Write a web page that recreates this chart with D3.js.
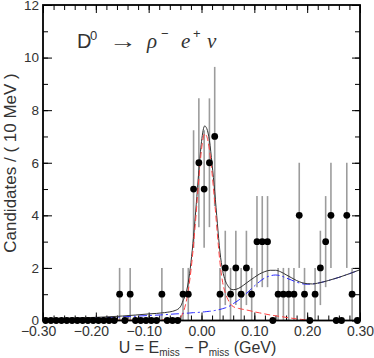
<!DOCTYPE html>
<html>
<head>
<meta charset="utf-8">
<script src="https://d3js.org/d3.v7.min.js"></script>
<style>
  body { margin: 0; background: #fff; }
  text { font-family: "Liberation Sans", Arial, sans-serif; fill: #333; }
</style>
</head>
<body>
<script>
  // histogram: 60 bins of 10 MeV from -0.30 to 0.30 GeV
  const binLow = -0.30;
  const binWidth = 0.01;
  const counts = [
    0, 0, 0, 0, 0, 0, 0, 0, 0, 0, 0, 0, 0, 0, 1, 0, 1, 0, 0, 0,
    0, 0, 1, 0, 0, 0, 1, 1, 5, 6, 5, 6, 7, 1, 2, 1, 2, 1, 2, 1,
    3, 3, 3, 0, 1, 1, 1, 1, 4, 1, 0, 1, 2, 3, 4, 0, 0, 4, 1, 0
  ];

  // fit curves
  const curveU = [-0.30, -0.25, -0.20, -0.15, -0.10, -0.07, -0.05, -0.04, -0.035, -0.03,
    -0.025, -0.02, -0.015, -0.01, -0.005, 0.0, 0.006, 0.01, 0.015, 0.02,
    0.025, 0.03, 0.035, 0.04, 0.045, 0.05, 0.055, 0.06, 0.07, 0.08,
    0.09, 0.10, 0.11, 0.12, 0.13, 0.14, 0.15, 0.16, 0.17, 0.18,
    0.19, 0.20, 0.21, 0.22, 0.24, 0.26, 0.28, 0.30];
  const totalFit = [0.06, 0.09, 0.12, 0.17, 0.25, 0.30, 0.38, 0.52, 0.75, 1.0,
    1.45, 2.2, 3.2, 4.4, 5.7, 6.8, 7.4, 7.3, 6.85, 5.95,
    4.9, 3.7, 2.6, 1.9, 1.52, 1.32, 1.2, 1.17, 1.22, 1.35,
    1.5, 1.64, 1.77, 1.86, 1.91, 1.91, 1.85, 1.74, 1.63, 1.52,
    1.44, 1.40, 1.39, 1.42, 1.52, 1.64, 1.78, 1.93];
  const backgroundFit = [0.05, 0.07, 0.10, 0.14, 0.19, 0.22, 0.25, 0.26, 0.27, 0.28,
    0.28, 0.29, 0.30, 0.30, 0.31, 0.32, 0.33, 0.34, 0.35, 0.36,
    0.38, 0.40, 0.42, 0.45, 0.48, 0.52, 0.57, 0.64, 0.77, 0.94,
    1.12, 1.31, 1.48, 1.62, 1.70, 1.73, 1.70, 1.62, 1.54, 1.46,
    1.40, 1.38, 1.39, 1.42, 1.52, 1.64, 1.78, 1.93];
  const signalU = [-0.16, -0.10, -0.07, -0.05, -0.04, -0.035, -0.03, -0.025, -0.02, -0.015,
    -0.01, -0.005, 0.0, 0.006, 0.01, 0.015, 0.02, 0.025, 0.03, 0.035,
    0.04, 0.045, 0.05, 0.055, 0.06, 0.07, 0.08, 0.09, 0.10, 0.11,
    0.12, 0.13, 0.14, 0.15, 0.16, 0.17, 0.18, 0.19, 0.20, 0.21];
  const signalFit = [0.01, 0.02, 0.03, 0.05, 0.12, 0.3, 0.62, 1.15, 1.9, 2.9,
    4.1, 5.4, 6.5, 7.1, 7.0, 6.5, 5.6, 4.5, 3.3, 2.2,
    1.45, 1.05, 0.8, 0.62, 0.53, 0.46, 0.42, 0.38, 0.33, 0.29,
    0.25, 0.21, 0.18, 0.15, 0.12, 0.09, 0.06, 0.04, 0.02, 0.0];

  const xTicks = [-0.30, -0.20, -0.10, 0.00, 0.10, 0.20, 0.30];
  const yTicks = [0, 2, 4, 6, 8, 10, 12];

  const svg = d3.select("body")
    .append("svg")
    .attr("width", 374)
    .attr("height", 358);

  const x = d3.scaleLinear().domain([-0.3, 0.3]).range([43, 360]);
  const y = d3.scaleLinear().domain([0, 12]).range([320.5, 5]);

  svg.append("clipPath").attr("id", "plot")
    .append("rect")
    .attr("x", 43).attr("y", 5)
    .attr("width", 317).attr("height", 315.5);

  // axes, ticks pointing into the frame
  const xMinor = d3.range(-0.3, 0.3001, 0.02);
  const yMinor = d3.range(0, 12.001, 1);

  function styleAxis(g, size) {
    g.select(".domain").remove();
    g.selectAll("line").attr("stroke", "#000").attr("stroke-width", 1);
    g.selectAll("text").style("font-size", (size || 14) + "px").attr("fill", "#333");
  }

  svg.append("g").attr("transform", "translate(0,320.5)")
    .call(d3.axisBottom(x).tickValues(xMinor).tickSize(-5).tickFormat(""))
    .call(styleAxis);
  svg.append("g").attr("transform", "translate(0,320.5)")
    .call(d3.axisBottom(x).tickValues(xTicks).tickSize(-8).tickPadding(5.5)
      .tickFormat(d => d3.format(".2f")(d).replace("-", "\u2212")))
    .call(styleAxis, 14)
    .selectAll("text")
    .attr("dx", d => d < 0 ? "-0.35em" : 0);

  svg.append("g").attr("transform", "translate(0,5)")
    .call(d3.axisTop(x).tickValues(xMinor).tickSize(-5).tickFormat(""))
    .call(styleAxis);
  svg.append("g").attr("transform", "translate(0,5)")
    .call(d3.axisTop(x).tickValues(xTicks).tickSize(-8).tickFormat(""))
    .call(styleAxis);

  svg.append("g").attr("transform", "translate(43,0)")
    .call(d3.axisLeft(y).tickValues(yMinor).tickSize(-5).tickFormat(""))
    .call(styleAxis);
  svg.append("g").attr("transform", "translate(43,0)")
    .call(d3.axisLeft(y).tickValues(yTicks).tickSize(-9).tickPadding(4))
    .call(styleAxis, 13.5);

  svg.append("g").attr("transform", "translate(360,0)")
    .call(d3.axisRight(y).tickValues(yMinor).tickSize(-5).tickFormat(""))
    .call(styleAxis);
  svg.append("g").attr("transform", "translate(360,0)")
    .call(d3.axisRight(y).tickValues(yTicks).tickSize(-8).tickFormat(""))
    .call(styleAxis);

  // bins
  const bins = counts.map((n, i) => ({ u: binLow + (i + 0.5) * binWidth, n: n }));

  // error bars (sqrt n)
  svg.append("g")
    .selectAll("line")
    .data(bins.filter(d => d.n > 0))
    .join("line")
    .attr("x1", d => x(d.u)).attr("x2", d => x(d.u))
    .attr("y1", d => y(d.n - Math.sqrt(d.n)))
    .attr("y2", d => y(d.n + Math.sqrt(d.n)))
    .attr("stroke", "#9c9c9c")
    .attr("stroke-width", 1.6);

  // fit curves
  const line = d3.line()
    .x(d => x(d[0]))
    .y(d => y(d[1]))
    .curve(d3.curveMonotoneX);

  const curves = svg.append("g").attr("clip-path", "url(#plot)");

  curves.append("path")
    .attr("d", line(d3.zip(curveU, backgroundFit)))
    .attr("fill", "none")
    .attr("stroke", "#2b2bff")
    .attr("stroke-width", 1)
    .attr("stroke-dasharray", "8,3,2,3");

  curves.append("path")
    .attr("d", line(d3.zip(curveU, totalFit)))
    .attr("fill", "none")
    .attr("stroke", "#333")
    .attr("stroke-width", 1);

  curves.append("path")
    .attr("d", line(d3.zip(signalU, signalFit)))
    .attr("fill", "none")
    .attr("stroke", "#ff4040")
    .attr("stroke-width", 1)
    .attr("stroke-dasharray", "6,3");

  // data points
  svg.append("g")
    .selectAll("circle")
    .data(bins)
    .join("circle")
    .attr("cx", d => x(d.u))
    .attr("cy", d => y(d.n))
    .attr("r", 3.4)
    .attr("fill", "#000");

  // frame
  svg.append("rect")
    .attr("x", 43).attr("y", 5)
    .attr("width", 317).attr("height", 315.5)
    .attr("fill", "none")
    .attr("stroke", "#000")
    .attr("stroke-width", 1.8);

  // title  D0 -> rho- e+ nu
  const serif = '"Liberation Serif", "DejaVu Serif", serif';
  svg.append("text").attr("x", 77).attr("y", 47.5).style("font-size", "20px").text("D");
  svg.append("text").attr("x", 90).attr("y", 40).style("font-size", "13px").text("0");
  svg.append("text").attr("x", 109).attr("y", 47.5).style("font-size", "20px")
    .attr("textLength", 28).attr("lengthAdjust", "spacingAndGlyphs").text("\u2192");
  svg.append("text").attr("x", 147).attr("y", 47.5).style("font-size", "21px")
    .style("font-family", serif).style("font-style", "italic").text("\u03c1");
  svg.append("text").attr("x", 161).attr("y", 38).style("font-size", "13px").text("\u2212");
  svg.append("text").attr("x", 181).attr("y", 47.5).style("font-size", "21px")
    .style("font-family", serif).style("font-style", "italic").text("e");
  svg.append("text").attr("x", 193).attr("y", 38).style("font-size", "13px").text("+");
  svg.append("text").attr("x", 207).attr("y", 47.5).style("font-size", "21px")
    .style("font-family", serif).style("font-style", "italic").text("\u03bd");

  // axis titles
  svg.append("text")
    .attr("transform", "translate(15.5,163) rotate(-90)")
    .attr("text-anchor", "middle")
    .style("font-size", "17px")
    .text("Candidates / ( 10 MeV )");

  const xl = svg.append("text")
    .attr("x", 197.5).attr("y", 352.5)
    .attr("text-anchor", "middle")
    .style("font-size", "16px");
  xl.append("tspan").text("U = E");
  xl.append("tspan").attr("dy", 3).style("font-size", "10px").text("miss");
  xl.append("tspan").attr("dy", -3).text(" \u2212 P");
  xl.append("tspan").attr("dy", 3).style("font-size", "10px").text("miss");
  xl.append("tspan").attr("dy", -3).text(" (GeV)");
</script>
</body>
</html>
